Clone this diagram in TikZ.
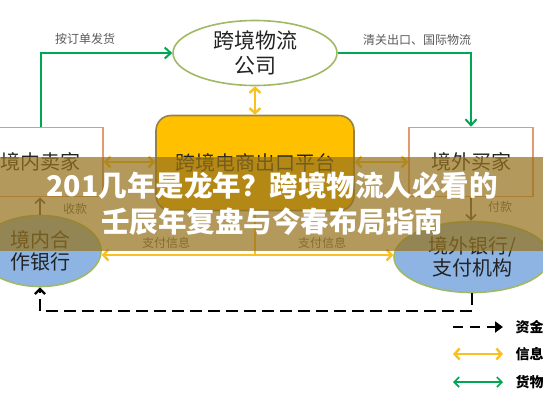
\documentclass[tikz,border=0pt]{standalone}
\usepackage{fontspec}
\newfontfamily\cjk{Noto Sans CJK SC}
\usetikzlibrary{shapes.geometric,arrows.meta}

\definecolor{goodsgreen}{RGB}{0,166,81}
\definecolor{infoyellow}{RGB}{250,192,30}
\definecolor{platyellow}{RGB}{255,192,0}
\definecolor{platedge}{RGB}{150,130,70}
\definecolor{oliveedge}{RGB}{160,185,100}
\definecolor{bankblue}{RGB}{141,180,226}
\definecolor{boxedge}{RGB}{225,155,110}
\definecolor{inkdark}{RGB}{35,35,35}
\definecolor{labelgray}{RGB}{90,90,90}
\definecolor{bandgold}{RGB}{150,115,30}

\begin{document}
\begin{tikzpicture}[
  x=1pt, y=-1pt,
  partybox/.style={rectangle, draw=boxedge, line width=1.6pt, fill=white,
    minimum width=124pt, minimum height=69pt, align=center,
    font=\cjk\fontsize{20}{24}\selectfont, text=inkdark},
  platbox/.style={rectangle, draw=platedge, line width=1.6pt, fill=platyellow,
    rounded corners=15pt, minimum width=198pt, minimum height=95pt, align=center,
    font=\cjk\fontsize{20}{24}\selectfont, text=inkdark},
  logiell/.style={ellipse, draw=oliveedge, line width=1.6pt, fill=white,
    minimum width=164pt, minimum height=65pt, inner sep=0pt, align=center,
    font=\cjk\fontsize{21}{25}\selectfont, text=inkdark},
  bankell/.style={ellipse, draw=oliveedge, line width=1.6pt, fill=bankblue,
    minimum height=71pt, inner sep=0pt, align=center,
    font=\cjk\fontsize{20}{22}\selectfont, text=inkdark},
  flowlabel/.style={font=\cjk\fontsize{12}{14}\selectfont, text=labelgray},
  keylabel/.style={font=\cjk\bfseries\fontsize{14}{16}\selectfont, text=black, anchor=west},
  goods/.style={draw=goodsgreen, line width=2pt, -{Straight Barb[length=6pt,width=11pt]}},
  goodskey/.style={draw=goodsgreen, line width=1.6pt,
    {Straight Barb[length=5pt,width=10pt]}-{Straight Barb[length=5pt,width=10pt]}},
  info/.style={draw=infoyellow, line width=2.4pt,
    {Straight Barb[length=5pt,width=11pt]}-{Straight Barb[length=5pt,width=11pt]}},
  infoline/.style={draw=infoyellow, line width=2.4pt},
  infoarr/.style={draw=infoyellow, line width=2.4pt, -{Straight Barb[length=5pt,width=11pt]}},
  payarr/.style={draw=inkdark!80, line width=1.6pt, -{Straight Barb[length=5pt,width=10pt]}},
  fund/.style={draw=black, line width=2.4pt, dash pattern=on 12pt off 6pt,
    -{Straight Barb[length=5pt,width=10pt]}},
  fundkey/.style={draw=black, line width=2.6pt, dash pattern=on 10pt off 7pt,
    -{Triangle[length=8pt,width=11pt]}}
]

\clip (0,0) rectangle (543,408);
\fill[white] (0,0) rectangle (543,408);

% Parties
\node[logiell] (logi) at (255,53) {跨境物流\\公司};
\node[platbox] (plat) at (255,163) {跨境电商出口平台};
\node[partybox] (seller) at (41,162) {境内卖家};
\node[partybox] (buyer) at (471,162) {境外买家};
\node[bankell, minimum width=122pt] (lbank) at (40,251) {境内合\\作银行};
\node[bankell, minimum width=156pt] (rbank) at (472,257) {境外银行/\\支付机构};

% Goods flow
\draw[goods] (seller.north) |- (logi.west);
\draw[goods] (logi.east) -| (buyer.north);
\node[flowlabel] (shiplbl) at (85,39) {按订单发货};
\node[flowlabel] (clearlbl) at (417,40) {清关出口、国际物流};

% Information flow
\draw[info] (logi.south) -- (plat.north);
\draw[info] (seller.east) -- (seller.east -| plat.west);
\draw[info] (buyer.west -| plat.east) -- (buyer.west);
\coordinate (split) at (255,255);
\draw[infoline] (plat.south) -- (split);
\draw[infoarr] (split) -- (split -| lbank.east);
\draw[infoarr] (split) -- (split -| rbank.west);
\node[flowlabel] (paylbl1) at (166,243) {支付信息};
\node[flowlabel] (paylbl2) at (322,243) {支付信息};

% Payments
\draw[payarr] (lbank.north) -- (lbank.north |- seller.south);
\draw[payarr] (buyer.south) -- (buyer.south |- rbank.north);
\node[flowlabel] (recvlbl) at (75,209) {收款};
\node[flowlabel] (paidlbl) at (500,207) {付款};

% Fund flow
\coordinate (fundrow) at (0,311);
\draw[fund] (rbank.south) -- (rbank.south |- fundrow) -| (lbank.south);

% Legend
\coordinate (keyA1) at (453,327);
\coordinate (keyB1) at (503,327);
\coordinate (keyA2) at (453,354);
\coordinate (keyB2) at (503,354);
\coordinate (keyA3) at (453,382);
\coordinate (keyB3) at (503,382);
\draw[fundkey] (keyA1) -- (keyB1);
\draw[info] (keyA2) -- (keyB2);
\draw[goodskey] (keyA3) -- (keyB3);
\node[keylabel] (key1) at (512,327) {资金};
\node[keylabel] (key2) at (512,354) {信息};
\node[keylabel] (key3) at (512,382) {货物};

% Title band
\node[rectangle, fill=bandgold, fill opacity=0.72, minimum width=560pt,
  minimum height=94pt, inner sep=0pt] (band) at (271.5,204) {};
\node[align=center, text=white, font=\cjk\bfseries\fontsize{28.5}{36}\selectfont]
  (title) at (272,204) {201几年是龙年？跨境物流人必看的\\壬辰年复盘与今春布局指南};

\end{tikzpicture}
\end{document}
